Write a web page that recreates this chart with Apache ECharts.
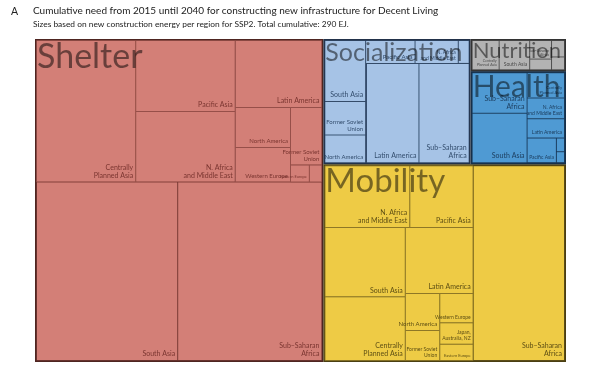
<!DOCTYPE html>
<html><head><meta charset="utf-8">
<script src="https://cdn.jsdelivr.net/npm/echarts@6/dist/echarts.min.js"></script>
<style>html,body{margin:0;padding:0;background:#fff}#c{width:600px;height:368px}</style>
</head><body><div id="c"></div>
<script>
// Cumulative new construction energy 2015-2040, SSP2 (EJ)
const categories = ['Shelter', 'Socialization', 'Nutrition', 'Health', 'Mobility'];

const shelterRegions = ['Centrally Planned Asia', 'Pacific Asia', 'N. Africa and Middle East', 'Latin America',
  'North America', 'Western Europe', 'Former Soviet Union', 'Eastern Europe', 'Japan, Australia, NZ',
  'South Asia', 'Sub–Saharan Africa'];
const shelterValues = [24.2, 12.2, 12.1, 10.0, 3.8, 3.3, 3.1, 0.56, 0.37, 43.4, 44.3];

const socializationRegions = ['South Asia', 'Former Soviet Union', 'North America', 'Pacific Asia',
  'N. Africa and Middle East', 'Western Europe', 'Eastern Europe', 'Japan, Australia, NZ',
  'Latin America', 'Sub–Saharan Africa'];
const socializationValues = [4.4, 2.4, 2.0, 2.0, 1.75, 0.44, 0.1, 0.05, 9.2, 8.8];

const nutritionRegions = ['Centrally Planned Asia', 'South Asia', 'Sub–Saharan Africa', 'Pacific Asia',
  'N. Africa and Middle East', 'Latin America'];
const nutritionValues = [1.52, 1.72, 0.78, 0.45, 0.41, 0.32];

const healthRegions = ['Sub–Saharan Africa', 'South Asia', 'Centrally Planned Asia', 'N. Africa and Middle East',
  'Latin America', 'Pacific Asia', 'Former Soviet Union', 'North America'];
const healthValues = [4.0, 4.9, 1.7, 1.4, 1.3, 1.3, 0.2, 0.16];

const mobilityRegions = ['N. Africa and Middle East', 'Pacific Asia', 'South Asia', 'Centrally Planned Asia',
  'Latin America', 'North America', 'Former Soviet Union', 'Western Europe', 'Japan, Australia, NZ',
  'Eastern Europe', 'Sub–Saharan Africa'];
const mobilityValues = [9.1, 6.8, 9.7, 8.9, 7.8, 2.2, 1.8, 1.7, 1.25, 0.94, 30.9];

// layout helper: how many leading regions are bundled into one invisible block
const bundleFirst = {Shelter: 9, Socialization: 0, Nutrition: 0, Health: 0, Mobility: 10};

const catStyle = {
  Shelter:       {fill: '#d37f77', line: '#82403a', edge: '#4e2521', text: '#7a3530', big: 34},
  Socialization: {fill: '#a6c3e6', line: '#3b5575', edge: '#22324a', text: '#344e6e', big: 25},
  Nutrition:     {fill: '#b3b3b3', line: '#5a5a5a', edge: '#333333', text: '#4a4a4a', big: 22},
  Health:        {fill: '#4f9ad3', line: '#1f4468', edge: '#17304a', text: '#1d3f60', big: 30},
  Mobility:      {fill: '#eecb45', line: '#6e5d1c', edge: '#4a3f12', text: '#5e4f14', big: 33}
};
// label font-size overrides for cramped cells
const labelSizeOverride = {
  'Nutrition|Centrally Planned Asia': 3.5, 'Nutrition|South Asia': 5, 'Nutrition|Sub–Saharan Africa': 3.5,
  'Health|Centrally Planned Asia': 4
};
const labelText = {
  'Centrally Planned Asia': 'Centrally\nPlanned Asia',
  'N. Africa and Middle East': 'N. Africa\nand Middle East',
  'Former Soviet Union': 'Former Soviet\nUnion',
  'Sub–Saharan Africa': 'Sub–Saharan\nAfrica',
  'Japan, Australia, NZ': 'Japan,\nAustralia, NZ'
};
const FONT = 'Lato';

function labelSize(cat, name, v) {
  const o = labelSizeOverride[cat + '|' + name];
  if (o) return o;
  return v >= 4 ? 7 : v >= 2 ? 6 : v >= 1 ? 5 : v >= 0.5 ? 4 : 0;
}

function leaf(cat, name, value) {
  const s = catStyle[cat];
  const fs = labelSize(cat, name, value);
  const txt = labelText[name] || name;
  return {
    name: name, value: value,
    itemStyle: {color: s.fill, borderColor: s.line, borderWidth: 0.5, gapWidth: 0},
    label: {show: fs > 0, position: 'insideBottomRight', distance: 2, padding: 0,
      fontSize: fs || 4, lineHeight: Math.round((fs || 4) * 1.15), color: s.text, fontFamily: FONT,
      overflow: 'none', formatter: function () { return txt; }}
  };
}
function group(name, children, fill) {
  return {name: name, children: children,
    itemStyle: {color: fill, borderColor: fill, borderWidth: 0, gapWidth: 0}};
}
function categoryNode(cat, regions, values) {
  const s = catStyle[cat];
  const leaves = regions.map((r, i) => leaf(cat, r, values[i]));
  const n = bundleFirst[cat];
  const children = n > 0 ? [group(cat + ' block', leaves.slice(0, n), s.fill)].concat(leaves.slice(n)) : leaves;
  return {name: cat, children: children,
    itemStyle: {color: s.fill, borderColor: s.edge, borderWidth: 1.5, gapWidth: 0}};
}
const sum = a => a.reduce((x, y) => x + y, 0);

const catNodes = {
  Shelter: categoryNode('Shelter', shelterRegions, shelterValues),
  Socialization: categoryNode('Socialization', socializationRegions, socializationValues),
  Nutrition: categoryNode('Nutrition', nutritionRegions, nutritionValues),
  Health: categoryNode('Health', healthRegions, healthValues),
  Mobility: categoryNode('Mobility', mobilityRegions, mobilityValues)
};
const tree = [catNodes.Shelter, catNodes.Socialization,
  group('Nutrition + Health', [catNodes.Nutrition, catNodes.Health], '#888'), catNodes.Mobility];

// overlay series: category names only, same values => same layout
const catTotals = {
  Shelter: sum(shelterValues), Socialization: sum(socializationValues), Nutrition: sum(nutritionValues),
  Health: sum(healthValues), Mobility: sum(mobilityValues)
};
function bigLabel(cat) {
  return {name: cat, value: catTotals[cat],
    itemStyle: {color: 'rgba(0,0,0,0)', borderColor: 'rgba(0,0,0,0)', borderWidth: 0},
    label: {show: true, position: 'insideTopLeft', distance: 0, padding: [1, 0, 0, 2],
      fontSize: catStyle[cat].big, fontFamily: FONT, color: 'rgba(0,0,0,0.5)', overflow: 'none'}};
}
const overlay = [bigLabel('Shelter'), bigLabel('Socialization'),
  {name: 'NH', children: [bigLabel('Nutrition'), bigLabel('Health')],
   itemStyle: {color: 'rgba(0,0,0,0)', borderColor: 'rgba(0,0,0,0)', borderWidth: 0, gapWidth: 0}},
  bigLabel('Mobility')];

const box = {left: 35, top: 39, width: 531, height: 323};
const common = Object.assign({type: 'treemap', squareRatio: 1, sort: false, roam: false, nodeClick: false,
  breadcrumb: {show: false}, silent: true, visibleMin: 0, animation: false,
  levels: [{itemStyle: {borderWidth: 0, gapWidth: 0, borderColor: 'rgba(0,0,0,0)'}}]}, box);

const chart = echarts.init(document.getElementById('c'), null, {renderer: 'canvas'});
chart.setOption({
  animation: false,
  title: [
    {text: 'A', left: 11, top: 6, padding: 0, textStyle: {fontFamily: FONT, fontSize: 10.5, fontWeight: 'normal', color: '#222'}},
    {text: 'Cumulative need from 2015 until 2040 for constructing new infrastructure for Decent Living',
     left: 33, top: 6, padding: 0, textStyle: {fontFamily: FONT, fontSize: 10, fontWeight: 'normal', color: '#222'}},
    {text: 'Sizes based on new construction energy per region for SSP2. Total cumulative: 290 EJ.',
     left: 33, top: 20, padding: 0, textStyle: {fontFamily: FONT, fontSize: 8.4, fontWeight: 'normal', color: '#222'}}
  ],
  series: [
    Object.assign({}, common, {name: 'regions', data: tree}),
    Object.assign({}, common, {name: 'categories', data: overlay, z: 5})
  ]
});
</script></body></html>
